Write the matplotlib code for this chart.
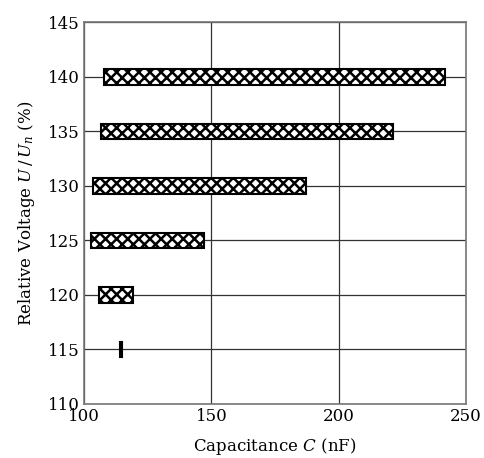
import matplotlib
matplotlib.use("Agg")
import matplotlib.pyplot as plt

# voltage levels (%) and capacitance ranges (nF)
voltage = [115, 120, 125, 130, 135, 140]
c_start = [114.2, 105.7, 102.7, 103.6, 106.7, 107.7]
c_end = [114.8, 119.1, 147.0, 187.0, 221.2, 241.9]

xticks = [100, 150, 200, 250]
yticks = [110, 115, 120, 125, 130, 135, 140, 145]

plt.rcParams["font.family"] = "DejaVu Serif"
plt.rcParams["mathtext.fontset"] = "dejavuserif"
plt.rcParams["hatch.linewidth"] = 1.8

fig = plt.figure(figsize=(4.84, 4.58), dpi=100)
ax = fig.add_axes([0.1736, 0.118, 0.7894, 0.833])

widths = [e - s for s, e in zip(c_start, c_end)]
ax.barh(voltage, widths, left=c_start, height=1.4, color="white",
        edgecolor="black", linewidth=1.5, hatch="xxx", zorder=3)

ax.set_xlim(100, 250)
ax.set_ylim(110, 145)
ax.set_xticks(xticks)
ax.set_yticks(yticks)
ax.grid(True, color="#333333", linewidth=0.9, zorder=0)
ax.tick_params(length=0, labelsize=12, pad=3)
for s in ax.spines.values():
    s.set_color("#777777")
    s.set_linewidth(1.2)

ax.set_xlabel("Capacitance $C$ (nF)", fontsize=12, labelpad=8)
ax.set_ylabel("Relative Voltage $U\\,/\\,U_n$ (%)", fontsize=12, labelpad=8)

fig.savefig("out.png", dpi=100)
